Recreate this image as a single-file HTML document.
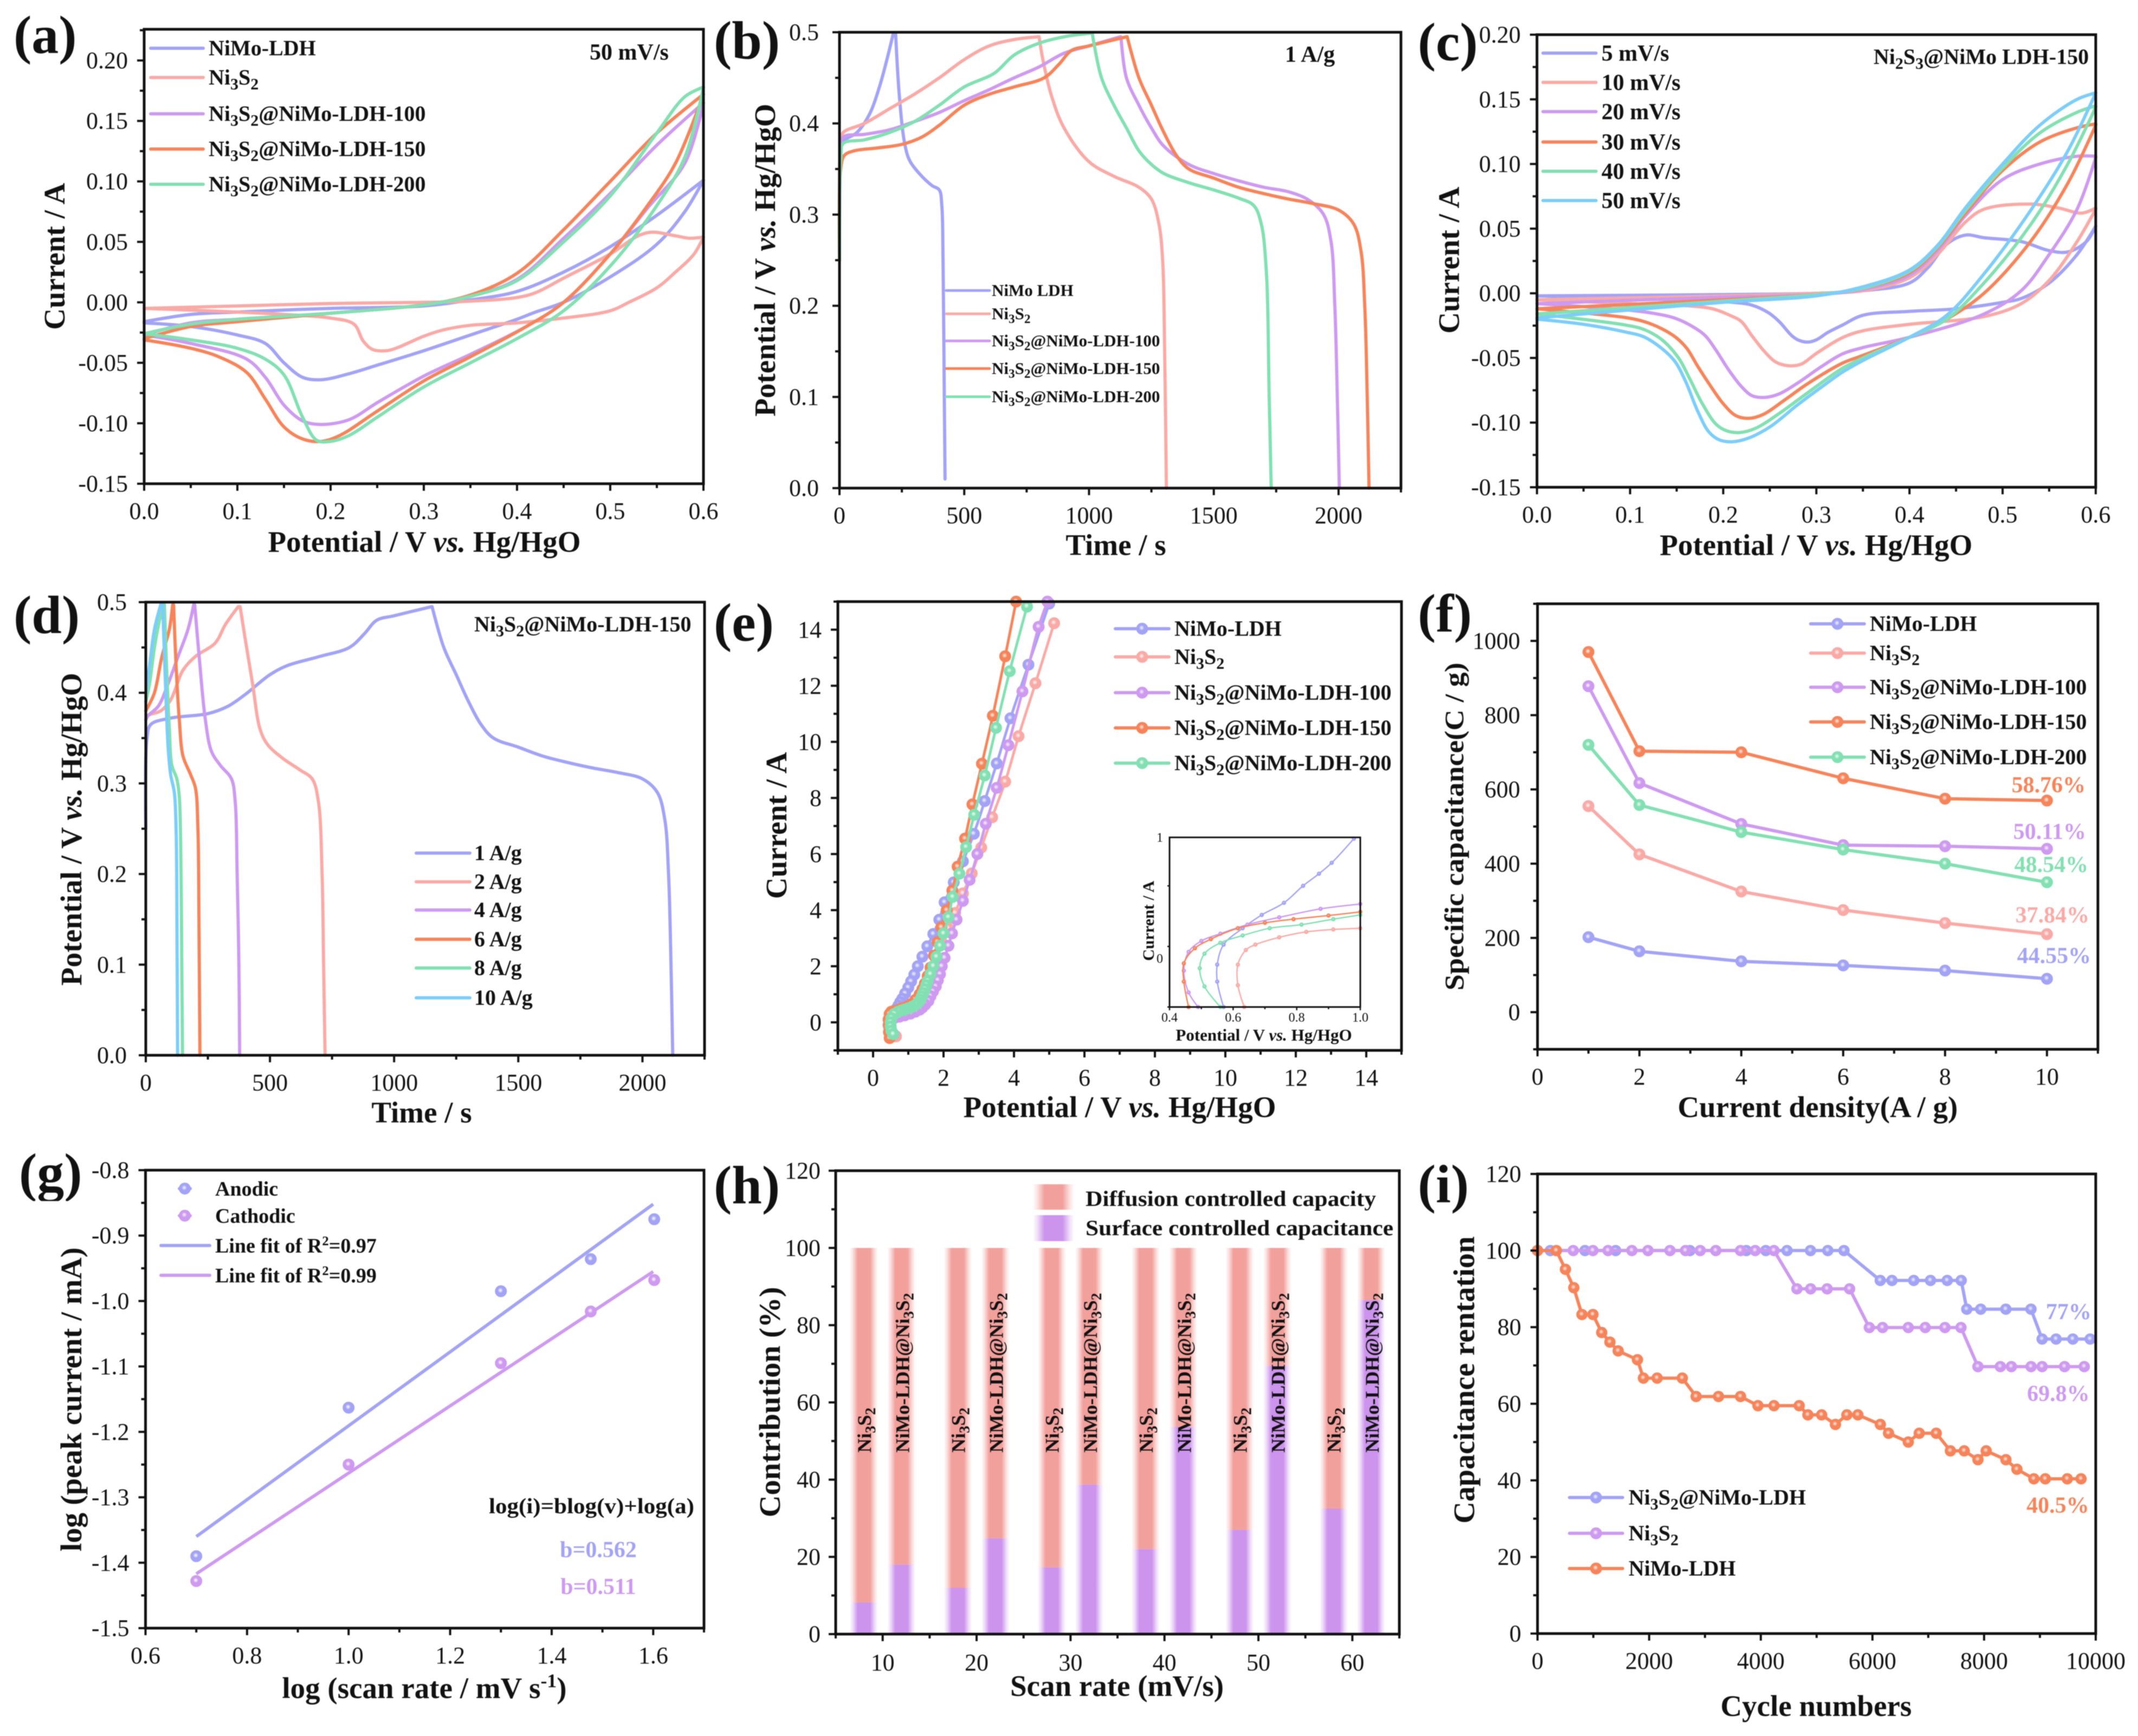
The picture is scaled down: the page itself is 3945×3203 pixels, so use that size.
<!DOCTYPE html>
<html lang="en">
<head>
<meta charset="utf-8">
<title>Electrochemical performance panels</title>
<style>
html,body{margin:0;padding:0;background:#fff;}
#figure{display:block;width:3945px;height:3203px;filter:blur(0.7px);font-family:"Liberation Serif",serif;}
</style>
</head>
<body>
<svg id="figure" xmlns="http://www.w3.org/2000/svg" width="3945" height="3203" viewBox="0 0 3945 3203">
<defs id="defs"></defs>
<rect x="0" y="0" width="3945" height="3203" fill="#ffffff"></rect>
</svg>
<script>
/* ---------- shared category names ---------- */
const materialNames = ["NiMo-LDH","Ni_3S_2","Ni_3S_2@NiMo-LDH-100","Ni_3S_2@NiMo-LDH-150","Ni_3S_2@NiMo-LDH-200"];

/* ---------- panel a : CV at 50 mV/s (potential V, current A) ---------- */
const aXTicks=[0,0.1,0.2,0.3,0.4,0.5,0.6];
const aYTicks=[-0.15,-0.1,-0.05,0,0.05,0.1,0.15,0.2];
const aNiMoFwd=[[0,-.016],[.05,-.01],[.1,-.008],[.2,-.005],[.3,-.003],[.35,.002],[.4,.009],[.45,.025],[.5,.046],[.55,.072],[.6,.101]];
const aNiMoRev=[[.6,.101],[.58,.075],[.55,.048],[.5,.021],[.45,0],[.42,-.008],[.4,-.014],[.35,-.027],[.3,-.04],[.25,-.052],[.22,-.059],[.19,-.064],[.17,-.062],[.15,-.05],[.13,-.034],[.1,-.027],[.05,-.02],[0,-.017]];
const aNi3S2Fwd=[[0,-.005],[.1,-.003],[.2,-.001],[.3,0],[.35,.001],[.4,.004],[.42,.008],[.45,.02],[.5,.04],[.53,.055],[.545,.058],[.57,.055],[.585,.053],[.6,.054]];
const aNi3S2Rev=[[.6,.054],[.59,.04],[.57,.025],[.55,.012],[.52,0],[.5,-.007],[.45,-.013],[.4,-.017],[.35,-.019],[.32,-.023],[.3,-.028],[.27,-.038],[.26,-.04],[.245,-.039],[.235,-.032],[.225,-.018],[.2,-.013],[.15,-.01],[.1,-.008],[0,-.005]];
const a100Fwd=[[0,-.027],[.05,-.017],[.1,-.014],[.2,-.009],[.3,-.002],[.35,.005],[.4,.019],[.45,.053],[.5,.09],[.55,.13],[.6,.165]];
const a100Rev=[[.6,.165],[.58,.115],[.54,.078],[.5,.04],[.45,0],[.41,-.02],[.35,-.043],[.3,-.061],[.25,-.083],[.22,-.097],[.19,-.101],[.17,-.098],[.15,-.085],[.13,-.062],[.11,-.047],[.05,-.034],[0,-.027]];
const a150Fwd=[[0,-.03],[.05,-.02],[.1,-.016],[.2,-.009],[.3,-.002],[.35,.006],[.4,.024],[.45,.06],[.5,.1],[.55,.14],[.6,.172]];
const a150Rev=[[.6,.172],[.57,.115],[.54,.08],[.5,.04],[.45,0],[.41,-.02],[.35,-.045],[.3,-.065],[.25,-.09],[.21,-.11],[.19,-.115],[.17,-.113],[.15,-.103],[.13,-.08],[.11,-.058],[.08,-.045],[.05,-.038],[0,-.031]];
const a200Fwd=[[0,-.026],[.05,-.018],[.1,-.014],[.2,-.009],[.3,-.002],[.35,.005],[.4,.018],[.45,.05],[.5,.088],[.55,.14],[.58,.17],[.6,.178]];
const a200Rev=[[.6,.178],[.58,.12],[.55,.08],[.5,.03],[.45,-.007],[.4,-.03],[.35,-.05],[.3,-.07],[.25,-.095],[.22,-.11],[.2,-.115],[.185,-.114],[.17,-.095],[.15,-.06],[.13,-.047],[.1,-.038],[.05,-.031],[0,-.026]];

/* ---------- panel b : GCD at 1 A/g (time s, potential V) ---------- */
const bXTicks=[0,500,1000,1500,2000];
const bYTicks=[0,0.1,0.2,0.3,0.4,0.5];
const bNiMoCharge=[[0,.25],[5,.36],[15,.38],[70,.39],[120,.41],[160,.44],[190,.47],[215,.498]];
const bNiMoDischarge=[[225,.498],[240,.43],[260,.38],[280,.36],[320,.345],[370,.332],[400,.327],[410,.31],[415,.25],[420,.1],[423,.01]];
const bNi3S2Charge=[[0,.3],[5,.38],[15,.39],[100,.4],[200,.416],[300,.432],[400,.45],[500,.47],[600,.485],[700,.492],[798,.495]];
const bNi3S2Discharge=[[800,.495],[815,.47],[850,.43],[900,.395],[1000,.358],[1100,.342],[1200,.33],[1250,.317],[1280,.29],[1295,.25],[1303,.15],[1310,0]];
const b100Charge=[[0,.3],[5,.37],[15,.385],[100,.388],[200,.393],[300,.402],[400,.412],[500,.425],[600,.437],[700,.45],[800,.462],[900,.477],[1000,.485],[1125,.495]];
const b100Discharge=[[1128,.495],[1150,.45],[1200,.42],[1250,.395],[1300,.375],[1400,.355],[1500,.345],[1600,.337],[1700,.33],[1800,.325],[1880,.316],[1940,.3],[1970,.27],[1985,.2],[1995,.1],[2003,0]];
const b150Charge=[[0,.25],[5,.35],[20,.365],[60,.37],[150,.373],[250,.377],[330,.385],[400,.398],[500,.42],[600,.432],[700,.44],[820,.45],[880,.465],[930,.48],[1000,.485],[1150,.495]];
const b150Discharge=[[1153,.495],[1200,.45],[1250,.42],[1300,.39],[1350,.365],[1400,.35],[1500,.34],[1600,.33],[1700,.323],[1800,.317],[1900,.312],[2000,.305],[2060,.29],[2090,.26],[2105,.2],[2115,.1],[2122,0]];
const b200Charge=[[0,.25],[5,.36],[15,.378],[100,.382],[200,.39],[300,.402],[400,.42],[500,.44],[620,.455],[700,.475],[800,.488],[900,.495],[1010,.499]];
const b200Discharge=[[1013,.499],[1050,.45],[1100,.42],[1150,.395],[1200,.37],[1250,.355],[1300,.345],[1400,.335],[1500,.327],[1600,.318],[1660,.31],[1690,.29],[1710,.24],[1722,.1],[1730,0]];

/* ---------- panel c : CV at scan rates ---------- */
const cLegend=["5 mV/s","10 mV/s","20 mV/s","30 mV/s","40 mV/s","50 mV/s"];
const c5Fwd=[[0,-.002],[.2,-.001],[.3,0],[.35,.002],[.4,.008],[.42,.02],[.44,.038],[.46,.045],[.48,.043],[.52,.04],[.55,.033],[.57,.032],[.59,.04],[.6,.052]];
const c5Rev=[[.6,.052],[.58,.03],[.55,.008],[.52,-.004],[.5,-.007],[.45,-.012],[.4,-.014],[.35,-.017],[.328,-.0246],[.3125,-.0302],[.3,-.036],[.2915,-.0377],[.2817,-.0365],[.274,-.033],[.26,-.0218],[.2485,-.015],[.231,-.0092],[.212,-.0071],[.1,-.004],[0,-.002]];
const c10Fwd=[[0,-.005],[.2,-.002],[.3,0],[.35,.002],[.4,.012],[.43,.03],[.46,.055],[.48,.065],[.53,.069],[.56,.066],[.585,.062],[.6,.066]];
const c10Rev=[[.6,.065],[.58,.04],[.55,.01],[.52,-.008],[.48,-.018],[.4,-.024],[.35,-.029],[.328,-.0343],[.3,-.0465],[.2834,-.0549],[.27,-.056],[.2566,-.0532],[.245,-.0456],[.231,-.033],[.2194,-.0218],[.2077,-.0172],[.1886,-.012],[.1595,-.0096],[.1,-.008],[0,-.005]];
const c20Fwd=[[0,-.008],[.2,-.003],[.3,-.001],[.35,.003],[.4,.014],[.43,.033],[.46,.06],[.5,.088],[.54,.1],[.58,.106],[.6,.106]];
const c20Rev=[[.6,.105],[.58,.065],[.55,.03],[.52,.002],[.48,-.016],[.4,-.034],[.35,-.042],[.328,-.0469],[.305,-.0569],[.28,-.0694],[.26,-.0778],[.245,-.0805],[.231,-.0792],[.2194,-.072],[.206,-.0594],[.1925,-.0443],[.181,-.033],[.1693,-.0267],[.1495,-.0196],[.1245,-.0154],[.0954,-.0128],[0,-.008]];
const c30Fwd=[[0,-.012],[.2,-.005],[.3,-.001],[.35,.004],[.4,.016],[.43,.035],[.46,.062],[.5,.095],[.54,.117],[.58,.128],[.6,.131]];
const c30Rev=[[.6,.13],[.57,.085],[.53,.04],[.48,0],[.44,-.02],[.4,-.034],[.35,-.048],[.328,-.054],[.289,-.0707],[.266,-.0825],[.2427,-.0938],[.2275,-.0967],[.2135,-.0946],[.2,-.0854],[.1867,-.072],[.173,-.0569],[.161,-.0427],[.1495,-.0343],[.1343,-.0275],[.1148,-.0218],[.0954,-.0188],[0,-.012]];
const c40Fwd=[[0,-.016],[.2,-.006],[.3,-.001],[.35,.004],[.4,.017],[.43,.036],[.46,.064],[.5,.097],[.54,.124],[.58,.14],[.6,.145]];
const c40Rev=[[.6,.144],[.57,.1],[.53,.053],[.48,.008],[.44,-.02],[.4,-.034],[.35,-.05],[.328,-.058],[.289,-.0778],[.26,-.093],[.235,-.1043],[.2177,-.1077],[.204,-.1064],[.1925,-.1014],[.177,-.0846],[.1635,-.0653],[.152,-.05],[.1343,-.036],[.1148,-.028],[.0954,-.0246],[0,-.016]];
const c50Fwd=[[0,-.019],[.2,-.007],[.3,-.002],[.35,.005],[.4,.018],[.43,.037],[.46,.066],[.5,.1],[.54,.13],[.58,.15],[.6,.155]];
const c50Rev=[[.6,.155],[.57,.11],[.53,.064],[.48,.015],[.44,-.017],[.4,-.034],[.35,-.052],[.328,-.061],[.309,-.0707],[.28,-.0862],[.2508,-.103],[.2275,-.1119],[.21,-.1148],[.1963,-.1135],[.1846,-.1072],[.173,-.0918],[.1595,-.068],[.148,-.0526],[.1343,-.0428],[.1148,-.0337],[.0954,-.03],[.05,-.024],[0,-.02]];

/* ---------- panel d : GCD at current densities ---------- */
const dLegend=["1 A/g","2 A/g","4 A/g","6 A/g","8 A/g","10 A/g"];
const d1Charge=[[0,.25],[5,.35],[20,.365],[100,.372],[250,.377],[330,.385],[400,.398],[500,.42],[570,.43],[700,.44],[820,.45],[880,.465],[930,.48],[1000,.485],[1150,.495]];
const d1Discharge=[[1153,.495],[1200,.45],[1250,.42],[1300,.39],[1350,.365],[1400,.35],[1500,.34],[1600,.33],[1700,.323],[1800,.317],[1900,.312],[2000,.305],[2060,.29],[2090,.26],[2105,.2],[2115,.1],[2122,0]];
const d2Charge=[[0,.37],[10,.375],[60,.38],[100,.392],[150,.425],[200,.44],[280,.455],[320,.475],[372,.495]];
const d2Discharge=[[380,.495],[400,.46],[430,.41],[460,.36],[490,.343],[550,.328],[620,.315],[670,.305],[695,.28],[710,.2],[716,.1],[722,0]];
const d4Charge=[[0,.37],[10,.375],[50,.385],[90,.41],[130,.44],[170,.47],[193,.497]];
const d4Discharge=[[197,.497],[215,.44],[240,.37],[265,.335],[300,.32],[345,.305],[360,.28],[368,.2],[375,.1],[378,0]];
const d6Charge=[[0,.38],[10,.385],[35,.4],[65,.44],[95,.47],[108,.497]];
const d6Discharge=[[112,.497],[122,.43],[135,.37],[150,.33],[180,.31],[200,.295],[210,.25],[214,.15],[218,0]];
const d8Charge=[[0,.39],[15,.41],[35,.45],[55,.48],[70,.497]];
const d8Discharge=[[75,.497],[85,.42],[95,.36],[105,.32],[125,.305],[135,.285],[142,.2],[145,.1],[148,0]];
const d10Charge=[[0,.4],[15,.43],[35,.47],[60,.497]];
const d10Discharge=[[68,.497],[78,.42],[90,.34],[100,.31],[115,.29],[122,.25],[126,.12],[128,0]];

/* ---------- panel e : LSV with markers ---------- */
const eTicks=[0,2,4,6,8,10,12,14];
const eNiMo=[[5,14.93],[4.41,12.75],[3.9,10.84],[3.51,9.23],[3.17,7.89],[2.86,6.72],[2.55,5.74],[2.29,4.99],[2.03,4.28],[1.88,3.66],[1.71,3.15],[1.54,2.71],[1.4,2.34],[1.27,2],[1.17,1.7],[1.08,1.46],[1,1.24],[.91,1.03],[.83,.84],[.77,.72],[.72,.6],[.66,.48],[.6,.38],[.52,.25],[.47,.1],[.46,-.05],[.47,-.2],[.52,-.35],[.58,-.45]];
const eNi3S2=[[5.14,14.23],[4.61,12.09],[4.13,10.2],[3.75,8.58],[3.38,7.31],[3.07,6.23],[2.8,5.31],[2.55,4.6],[2.33,3.9],[2.13,3.35],[1.96,2.83],[1.83,2.31],[1.72,1.85],[1.62,1.5],[1.52,1.2],[1.42,.95],[1.32,.72],[1.2,.55],[1.1,.42],[1,.35],[.9,.3],[.8,.27],[.7,.24],[.6,.25],[.5,.15],[.46,0],[.45,-.15],[.48,-.3],[.55,-.42],[.65,-.5]];
const e100=[[4.95,15],[4.7,14.1],[4.24,11.8],[3.84,9.88],[3.51,8.36],[3.2,7.08],[2.96,6],[2.74,5.08],[2.55,4.33],[2.37,3.66],[2.24,3.17],[2.14,2.73],[2.03,2.3],[1.95,2],[1.9,1.72],[1.84,1.5],[1.78,1.28],[1.7,1.1],[1.63,.93],[1.57,.76],[1.48,.63],[1.4,.53],[1.32,.45],[1.2,.38],[1.06,.31],[.9,.25],[.75,.2],[.6,.15],[.5,.05],[.47,-.1],[.5,-.3],[.58,-.42]];
const e150=[[4.06,15],[3.75,13.05],[3.4,10.93],[3.09,9.22],[2.82,7.77],[2.61,6.55],[2.4,5.55],[2.25,4.7],[2.09,4],[1.94,3.39],[1.83,2.86],[1.73,2.38],[1.63,1.95],[1.55,1.65],[1.47,1.38],[1.4,1.18],[1.32,1],[1.2,.8],[1.08,.65],[.95,.55],[.8,.5],[.65,.42],[.52,.38],[.47,.3],[.44,.1],[.44,-.1],[.45,-.35],[.47,-.56]];
const e200=[[4.37,14.82],[3.88,12.52],[3.49,10.5],[3.17,8.8],[2.87,7.4],[2.64,6.25],[2.45,5.3],[2.26,4.47],[2.14,3.75],[2,3.17],[1.9,2.73],[1.8,2.34],[1.71,2.01],[1.63,1.72],[1.55,1.47],[1.51,1.32],[1.47,1.18],[1.42,1.04],[1.38,.92],[1.34,.8],[1.28,.7],[1.2,.62],[1.1,.55],[1,.5],[.9,.46],[.8,.42],[.7,.37],[.6,.3],[.52,.15],[.5,0],[.5,-.15],[.52,-.3],[.57,-.42]];
/* inset of panel e */
const insetNiMo=[[.57,-.4],[.55,-.19],[.55,-.05],[.57,.115],[.63,.25],[.69,.36],[.76,.46],[.82,.6],[.87,.7],[.91,.79],[.98,.99]];
const insetNi3S2=[[.635,-.4],[.615,-.22],[.615,-.05],[.64,.07],[.67,.115],[.745,.175],[.83,.22],[.915,.24],[1,.25]];
const inset100=[[.49,-.4],[.46,-.28],[.445,-.1],[.46,.055],[.5,.145],[.56,.205],[.645,.28],[.745,.34],[.875,.41],[1,.45]];
const inset150=[[.46,-.4],[.445,-.19],[.445,-.04],[.48,.085],[.53,.16],[.615,.25],[.7,.295],[.79,.325],[.9,.355],[1,.385]];
const inset200=[[.56,-.4],[.51,-.23],[.495,-.08],[.51,.04],[.56,.13],[.63,.19],[.715,.25],[.815,.28],[.915,.325],[1,.36]];

/* ---------- panel f : specific capacitance ---------- */
const fDensity=[1,2,4,6,8,10];
const fNiMo=[202,164,137,126,112,90];
const fNi3S2=[555,425,325,275,240,210];
const f100=[878,617,507,450,447,440];
const f150=[970,703,700,630,575,570];
const f200=[720,558,485,438,400,350];
const fRetention=["44.55%","37.84%","50.11%","58.76%","48.54%"];

/* ---------- panel g : log-log fit ---------- */
const gLogRate=[0.7,1,1.3,1.477,1.602];
const gAnodic=[-1.39,-1.163,-.985,-.936,-.875];
const gCathodic=[-1.428,-1.25,-1.095,-1.016,-.968];
const gFitX=[0.7,1.6];
const gAnodicFit=[-1.36,-.852];
const gCathodicFit=[-1.417,-.955];

/* ---------- panel h : stacked contribution ---------- */
const hNi3S2Rate=[8,18,28,38,48,58];
const hCompRate=[12,22,32,42,52,62];
const hNi3S2Surface=[8.2,12,17.3,22,27,32.5];
const hCompSurface=[18,24.8,38.7,53.7,69.5,86.5];

/* ---------- panel i : cycling ---------- */
const iComposite=[[0,100],[230,100],[850,100],[1400,100],[2730,100],[3740,100],[4090,100],[4470,100],[4890,100],[5200,100],[5490,100],[6140,92.2],[6350,92.2],[6740,92.2],[7040,92.2],[7340,92.2],[7590,92.2],[7690,84.7],[7940,84.7],[8390,84.7],[8840,84.7],[9040,76.9],[9290,76.9],[9590,76.9],[9900,76.9]];
const iNi3S2=[[0,100],[640,100],[993,100],[1264,100],[1691,100],[1979,100],[2373,100],[2652,100],[2915,100],[3194,100],[3637,100],[3900,100],[4236,100],[4647,90],[4893,90],[5189,90],[5591,90],[5944,79.9],[6182,79.9],[6642,79.9],[6946,79.9],[7299,79.9],[7586,79.9],[7890,69.7],[8292,69.7],[8489,69.7],[8842,69.7],[9040,69.7],[9442,69.7],[9795,69.7]];
const iNiMo=[[0,100],[337,100],[500,95.1],[650,90.3],[796,83.3],[993,83.3],[1150,78.6],[1297,76.1],[1445,73.8],[1790,71.5],[1897,66.7],[2143,66.7],[2594,66.7],[2841,61.9],[3243,61.9],[3637,61.9],[3949,59.5],[4236,59.5],[4688,59.5],[4844,57.1],[5090,57.1],[5337,54.6],[5542,57.1],[5739,57.1],[6141,54.6],[6289,52.3],[6642,50],[6839,52.3],[7143,52.3],[7397,47.7],[7644,47.7],[7890,45.4],[8038,47.7],[8391,45.4],[8588,42.9],[8892,40.4],[9097,40.4],[9491,40.4],[9737,40.4]];

/* ---------- drawing helpers ---------- */
const NS="http://www.w3.org/2000/svg";
const svg=document.getElementById("figure");
const defs=document.getElementById("defs");
const BLUE="#a3a3f6",PINK="#f9aaa6",PURPLE="#cd9af0",ORANGE="#f5845a",GREEN="#82e0b2",SKY="#7ccdf9";
const MATERIAL=[BLUE,PINK,PURPLE,ORANGE,GREEN];
const RATE=[BLUE,PINK,PURPLE,ORANGE,GREEN,SKY];
function make(tag,parent,attrs){
  const e=document.createElementNS(NS,tag);
  for(const k in attrs)e.setAttribute(k,attrs[k]);
  parent.appendChild(e);
  return e;
}
[BLUE,PINK,PURPLE,ORANGE,GREEN].forEach(function(c){
  const g=make("radialGradient",defs,{id:"dot"+c.slice(1),cx:"0.45",cy:"0.42",r:"0.6"});
  make("stop",g,{offset:"0","stop-color":"#ffffff","stop-opacity":"0.85"});
  make("stop",g,{offset:"0.4","stop-color":c});
  make("stop",g,{offset:"1","stop-color":c});
});
[["barPink","#f2a09c"],["barPurple","#cc94ec"]].forEach(function(p){
  const g=make("linearGradient",defs,{id:p[0],x1:"0",x2:"1",y1:"0",y2:"0"});
  make("stop",g,{offset:"0","stop-color":p[1],"stop-opacity":"0"});
  make("stop",g,{offset:"0.12","stop-color":p[1],"stop-opacity":"0.35"});
  make("stop",g,{offset:"0.28","stop-color":p[1]});
  make("stop",g,{offset:"0.72","stop-color":p[1]});
  make("stop",g,{offset:"0.88","stop-color":p[1],"stop-opacity":"0.35"});
  make("stop",g,{offset:"1","stop-color":p[1],"stop-opacity":"0"});
});
/* rich text: _x subscript, ^x^ superscript, *x* italic */
function txt(parent,x,y,str,name,o){
  o=o||{};
  const t=make("text",parent,{x:0,y:0,"font-size":o.size||44,"font-weight":o.bold===false?"normal":"bold",fill:o.fill||"#111","text-anchor":o.anchor||"start",transform:"translate("+x+" "+y+")"+(o.rotate?" rotate("+o.rotate+")":"")});
  
  
  if(o.fit){t.setAttribute("textLength",o.fit);t.setAttribute("lengthAdjust","spacingAndGlyphs");}
  const size=o.size||44;
  const re=/_(\w)|\^(.+?)\^|\*(.+?)\*|[^_^*]+/g;
  let m,pending=0;
  while((m=re.exec(str))){
    const s=make("tspan",t,{});
    let dy=pending;pending=0;
    if(m[1]){s.textContent=m[1];s.setAttribute("font-size",size*.75);dy+=size*.22;pending=-size*.22;}
    else if(m[2]){s.textContent=m[2];s.setAttribute("font-size",size*.65);dy-=size*.36;pending=size*.36;}
    else if(m[3]){s.textContent=m[3];s.setAttribute("font-style","italic");}
    else s.textContent=m[0];
    if(dy)s.setAttribute("dy",dy);
  }
  return t;
}
function scale(d0,d1,p0,p1){return function(v){return p0+(v-d0)/(d1-d0)*(p1-p0);};}
/* centripetal Catmull-Rom through the data points */
function smooth(pts,first){
  function dist(a,b){return Math.pow(Math.hypot(a[0]-b[0],a[1]-b[1]),0.5)||1e-4;}
  let d=(first?"M":"L")+pts[0][0].toFixed(1)+" "+pts[0][1].toFixed(1);
  for(let i=0;i<pts.length-1;i++){
    const p1=pts[i],p2=pts[i+1];
    const p0=i>0?pts[i-1]:null,p3=i<pts.length-2?pts[i+2]:null;
    const d2=dist(p1,p2);
    let c1=p1,c2=p2;
    if(p0){
      const d1=dist(p0,p1),A=2*d1*d1+3*d1*d2+d2*d2,N=3*d1*(d1+d2);
      c1=[(d1*d1*p2[0]-d2*d2*p0[0]+A*p1[0])/N,(d1*d1*p2[1]-d2*d2*p0[1]+A*p1[1])/N];
    }
    if(p3){
      const d3=dist(p2,p3),B=2*d3*d3+3*d3*d2+d2*d2,N=3*d3*(d3+d2);
      c2=[(d3*d3*p1[0]-d2*d2*p3[0]+B*p2[0])/N,(d3*d3*p1[1]-d2*d2*p3[1]+B*p2[1])/N];
    }
    d+="C"+c1[0].toFixed(1)+" "+c1[1].toFixed(1)+" "+c2[0].toFixed(1)+" "+c2[1].toFixed(1)+" "+p2[0].toFixed(1)+" "+p2[1].toFixed(1);
  }
  return d;
}
function panel(c){
  const g=make("g",svg,{});
  
  
  const sx=scale(c.xd[0],c.xd[1],c.box[0],c.box[2]);
  const sy=scale(c.yd[0],c.yd[1],c.box[3],c.box[1]);
  return {g:g,sx:sx,sy:sy,c:c};
}
function frame(P){
  const c=P.c,b=c.box,g=P.g,sw=c.sw||5;
  const r=make("rect",g,{x:b[0],y:b[1],width:b[2]-b[0],height:b[3]-b[1],fill:"none",stroke:"#111","stroke-width":sw});
  
  
  const maj=c.maj||13,min=c.min||8;
  const xdp=c.xdp||0,ydp=c.ydp||0;
  function eq(a,b){return Math.abs(a-b)<1e-6;}
  for(let v=c.xd[0];v<=c.xd[1]+1e-9;v+=c.xminor){
    const major=c.xticks.some(function(t){return eq(t,v);});
    const x=P.sx(v);
    const tk=make("line",g,{x1:x,x2:x,y1:b[3],y2:b[3]+(major?maj:min),stroke:"#111","stroke-width":sw*.8});
    
    
  }
  c.xticks.forEach(function(t){
    txt(g,P.sx(t),b[3]+(c.xoff||65),t.toFixed(xdp),"x-tick-label",{size:c.tick||44,bold:false,anchor:"middle"});
  });
  for(let v=c.yd[0];v<=c.yd[1]+1e-9;v+=c.yminor){
    const major=c.yticks.some(function(t){return eq(t,v);});
    const y=P.sy(v);
    const tk=make("line",g,{x1:b[0],x2:b[0]-(major?maj:min),y1:y,y2:y,stroke:"#111","stroke-width":sw*.8});
    
    
  }
  c.yticks.forEach(function(t){
    txt(g,b[0]-(c.yoff||30),P.sy(t)+(c.tick||44)*.33,t.toFixed(ydp),"y-tick-label",{size:c.tick||44,bold:false,anchor:"end"});
  });
}
function curve(P,segs,color,name,w){
  let d="";
  segs.forEach(function(s,i){
    d+=smooth(s.map(function(p){return [P.sx(p[0]),P.sy(p[1])];}),i===0);
  });
  const p=make("path",P.g,{d:d,fill:"none",stroke:color,"stroke-width":w||6,"stroke-linejoin":"round","stroke-linecap":"round"});
  
  
  return p;
}
function straight(P,pts,color,name,w){
  const d=pts.map(function(p,i){return (i?"L":"M")+P.sx(p[0]).toFixed(1)+" "+P.sy(p[1]).toFixed(1);}).join("");
  const p=make("path",P.g,{d:d,fill:"none",stroke:color,"stroke-width":w||6,"stroke-linejoin":"round"});
  
  
}
function dots(P,pts,color,name,r){
  pts.forEach(function(p){
    const c=make("circle",P.g,{cx:P.sx(p[0]),cy:P.sy(p[1]),r:r||9.5,fill:"url(#dot"+color.slice(1)+")",stroke:color,"stroke-width":2});
    
    
  });
}
function legendItem(g,x0,x1,y,tx,label,color,o){
  o=o||{};
  const it=make("g",g,{});
  
  
  if(x1>x0){make("line",it,{x1:x0,x2:x1,y1:y,y2:y,stroke:color,"stroke-width":o.w||6,"stroke-linecap":"round"});}
  if(o.marker){make("circle",it,{cx:(x0+x1)/2,cy:y,r:o.r||10,fill:"url(#dot"+color.slice(1)+")",stroke:color,"stroke-width":2});}
  txt(it,tx,y+(o.base||13),label,"legend-label",{size:o.size||40});
}
function tag(g,x,y,label){txt(g,x,y,label,"panel-label",{size:100});}
function zip(xs,ys){return xs.map(function(x,i){return [x,ys[i]];});}

/* ---------- panel a ---------- */
(function(){
  const P=panel({name:"panel-a-cv",box:[266,54,1298,892.5],xd:[0,.6],yd:[-.15,.2258],xticks:aXTicks,yticks:aYTicks,xminor:.05,yminor:.025,xdp:1,ydp:2});
  curve(P,[aNiMoFwd,aNiMoRev],BLUE,"series-nimo-ldh");
  curve(P,[aNi3S2Fwd,aNi3S2Rev],PINK,"series-ni3s2");
  curve(P,[a100Fwd,a100Rev],PURPLE,"series-100");
  curve(P,[a150Fwd,a150Rev],ORANGE,"series-150");
  curve(P,[a200Fwd,a200Rev],GREEN,"series-200");
  frame(P);
  [89,143,210,275,340].forEach(function(y,i){legendItem(P.g,278,375,y,385,materialNames[i],MATERIAL[i],{size:40});});
  txt(P.g,1088,110,"50 mV/s","scan-rate-note",{size:42});
  txt(P.g,119,473,"Current / A","y-axis-title",{size:55,rotate:-90,anchor:"middle"});
  txt(P.g,783,1018,"Potential / V *vs.* Hg/HgO","x-axis-title",{size:55,anchor:"middle"});
  tag(P.g,25,98,"(a)");
})();

/* ---------- panel b ---------- */
(function(){
  const P=panel({name:"panel-b-gcd",box:[1549,59.5,2585,900.6],xd:[0,2250],yd:[0,.5],xticks:bXTicks,yticks:bYTicks,xminor:250,yminor:.05,ydp:1,yoff:38});
  curve(P,[bNiMoCharge,bNiMoDischarge],BLUE,"series-nimo-ldh");
  curve(P,[bNi3S2Charge,bNi3S2Discharge],PINK,"series-ni3s2");
  curve(P,[b100Charge,b100Discharge],PURPLE,"series-100");
  curve(P,[b150Charge,b150Discharge],ORANGE,"series-150");
  curve(P,[b200Charge,b200Discharge],GREEN,"series-200");
  frame(P);
  const names=["NiMo LDH"].concat(materialNames.slice(1));
  [536,579,629,680,732].forEach(function(y,i){legendItem(P.g,1746,1826,y,1830,names[i],MATERIAL[i],{size:31,base:10,w:5});});
  txt(P.g,2371,114,"1 A/g","current-density-note",{size:42});
  txt(P.g,1430,480,"Potential / V *vs.* Hg/HgO","y-axis-title",{size:55,rotate:-90,anchor:"middle"});
  txt(P.g,2059,1024,"Time / s","x-axis-title",{size:55,anchor:"middle"});
  tag(P.g,1317,108,"(b)");
})();

/* ---------- panel c ---------- */
(function(){
  const P=panel({name:"panel-c-cv-rates",box:[2836,64,3867,899],xd:[0,.6],yd:[-.15,.2],xticks:aXTicks,yticks:aYTicks,xminor:.05,yminor:.025,xdp:1,ydp:2});
  curve(P,[c5Fwd,c5Rev],BLUE,"series-5-mv-s");
  curve(P,[c10Fwd,c10Rev],PINK,"series-10-mv-s");
  curve(P,[c20Fwd,c20Rev],PURPLE,"series-20-mv-s");
  curve(P,[c30Fwd,c30Rev],ORANGE,"series-30-mv-s");
  curve(P,[c40Fwd,c40Rev],GREEN,"series-40-mv-s");
  curve(P,[c50Fwd,c50Rev],SKY,"series-50-mv-s");
  frame(P);
  [98,152,206,262,316,370].forEach(function(y,i){legendItem(P.g,2847,2945,y,2955,cLegend[i],RATE[i],{size:42,base:14});});
  txt(P.g,3457,118,"Ni_2S_3@NiMo LDH-150","sample-note",{size:40});
  txt(P.g,2692,480,"Current / A","y-axis-title",{size:55,rotate:-90,anchor:"middle"});
  txt(P.g,3351,1024,"Potential / V *vs.* Hg/HgO","x-axis-title",{size:55,anchor:"middle"});
  tag(P.g,2616,111,"(c)");
})();

/* ---------- panel d ---------- */
(function(){
  const P=panel({name:"panel-d-gcd-rates",box:[269,1111,1300,1947],xd:[0,2250],yd:[0,.5],xticks:bXTicks,yticks:bYTicks,xminor:250,yminor:.05,ydp:1,yoff:35});
  curve(P,[d1Charge,d1Discharge],BLUE,"series-1-a-g");
  curve(P,[d2Charge,d2Discharge],PINK,"series-2-a-g");
  curve(P,[d4Charge,d4Discharge],PURPLE,"series-4-a-g");
  curve(P,[d6Charge,d6Discharge],ORANGE,"series-6-a-g");
  curve(P,[d8Charge,d8Discharge],GREEN,"series-8-a-g");
  curve(P,[d10Charge,d10Discharge],SKY,"series-10-a-g");
  frame(P);
  [1574,1627,1679,1733,1786,1841].forEach(function(y,i){legendItem(P.g,768,867,y,875,dLegend[i],RATE[i],{size:40,base:13});});
  txt(P.g,875,1165,"Ni_3S_2@NiMo-LDH-150","sample-note",{size:40});
  txt(P.g,150,1530,"Potential / V *vs.* Hg/HgO","y-axis-title",{size:55,rotate:-90,anchor:"middle"});
  txt(P.g,778,2071,"Time / s","x-axis-title",{size:55,anchor:"middle"});
  tag(P.g,25,1168,"(d)");
})();

/* ---------- panel e ---------- */
(function(){
  const P=panel({name:"panel-e-lsv",box:[1546,1110,2586,1938],xd:[-1,15],yd:[-1,15],xticks:eTicks,yticks:eTicks,xminor:1,yminor:1,yoff:30});
  [[eNiMo,BLUE,"series-nimo-ldh"],[eNi3S2,PINK,"series-ni3s2"],[e100,PURPLE,"series-100"],[e150,ORANGE,"series-150"],[e200,GREEN,"series-200"]].forEach(function(s){
    curve(P,[s[0]],s[1],s[2]+"-line",5);
    dots(P,s[0],s[1],s[2]+"-point",10);
  });
  frame(P);
  [1160,1212,1278,1343,1408].forEach(function(y,i){legendItem(P.g,2058,2157,y,2167,materialNames[i],MATERIAL[i],{size:40,marker:true,r:10});});
  txt(P.g,1451,1523,"Current / A","y-axis-title",{size:55,rotate:-90,anchor:"middle"});
  txt(P.g,2066,2061,"Potential / V *vs.* Hg/HgO","x-axis-title",{size:55,anchor:"middle"});
  tag(P.g,1317,1182,"(e)");
  /* inset */
  const Q=panel({name:"panel-e-inset",box:[2158,1545,2510,1858],xd:[.4,1],yd:[-.4,1],xticks:[.4,.6,.8,1],yticks:[0,1],xminor:.1,yminor:.5,xdp:1,ydp:0,tick:24,xoff:27,yoff:12,maj:6,min:4,sw:3});
  [[insetNiMo,BLUE,"inset-nimo-ldh"],[insetNi3S2,PINK,"inset-ni3s2"],[inset100,PURPLE,"inset-100"],[inset150,ORANGE,"inset-150"],[inset200,GREEN,"inset-200"]].forEach(function(s){
    curve(Q,[s[0]],s[1],s[2]+"-line",2.5);
    dots(Q,s[0],s[1],s[2]+"-point",3);
  });
  frame(Q);
  txt(Q.g,2129,1699,"Current / A","inset-y-axis-title",{size:30,rotate:-90,anchor:"middle"});
  txt(Q.g,2332,1920,"Potential / V *vs.* Hg/HgO","inset-x-axis-title",{size:31,anchor:"middle"});
})();

/* ---------- panel f ---------- */
(function(){
  const P=panel({name:"panel-f-capacitance",box:[2837,1114,3871,1936],xd:[0,11],yd:[-100,1100],xticks:[0,2,4,6,8,10],yticks:[0,200,400,600,800,1000],xminor:1,yminor:100,yoff:32});
  [[fNiMo,BLUE,"series-nimo-ldh"],[fNi3S2,PINK,"series-ni3s2"],[f100,PURPLE,"series-100"],[f150,ORANGE,"series-150"],[f200,GREEN,"series-200"]].forEach(function(s){
    const pts=zip(fDensity,s[0]);
    straight(P,pts,s[1],s[2]+"-line",6);
    dots(P,pts,s[1],s[2]+"-point",10);
  });
  frame(P);
  [1151,1205,1268,1332,1397].forEach(function(y,i){legendItem(P.g,3341,3440,y,3450,materialNames[i],MATERIAL[i],{size:40,marker:true,r:10});});
  txt(P.g,3790,1777,fRetention[0],"retention-nimo-ldh",{size:42,anchor:"middle",fill:BLUE});
  txt(P.g,3787,1702,fRetention[1],"retention-ni3s2",{size:42,anchor:"middle",fill:PINK});
  txt(P.g,3782,1548,fRetention[2],"retention-100",{size:42,anchor:"middle",fill:PURPLE});
  txt(P.g,3780,1462,fRetention[3],"retention-150",{size:42,anchor:"middle",fill:ORANGE});
  txt(P.g,3785,1609,fRetention[4],"retention-200",{size:42,anchor:"middle",fill:GREEN});
  txt(P.g,2700,1525,"Specific capacitance(C / g)","y-axis-title",{size:50,rotate:-90,anchor:"middle",fit:605});
  txt(P.g,3354,2061,"Current density(A / g)","x-axis-title",{size:55,anchor:"middle"});
  tag(P.g,2616,1165,"(f)");
})();

/* ---------- panel g ---------- */
(function(){
  const P=panel({name:"panel-g-log-fit",box:[268.5,2159,1299,3004],xd:[.6,1.7],yd:[-1.5,-.8],xticks:[.6,.8,1,1.2,1.4,1.6],yticks:[-1.5,-1.4,-1.3,-1.2,-1.1,-1,-.9,-.8],xminor:.1,yminor:.05,xdp:1,ydp:1});
  straight(P,zip(gFitX,gAnodicFit),BLUE,"anodic-fit-line",6);
  straight(P,zip(gFitX,gCathodicFit),PURPLE,"cathodic-fit-line",6);
  dots(P,zip(gLogRate,gAnodic),BLUE,"anodic-point",10);
  dots(P,zip(gLogRate,gCathodic),PURPLE,"cathodic-point",10);
  frame(P);
  legendItem(P.g,331,351,2193,397,"Anodic",BLUE,{size:38,marker:true,r:10,w:0});
  legendItem(P.g,331,351,2243,397,"Cathodic",PURPLE,{size:38,marker:true,r:10,w:0});
  legendItem(P.g,297,387,2298,397,"Line fit of R^2^=0.97",BLUE,{size:38});
  legendItem(P.g,297,387,2353,397,"Line fit of R^2^=0.99",PURPLE,{size:38});
  txt(P.g,902,2792,"log(i)=blog(v)+log(a)","power-law-equation",{size:40,fit:379});
  txt(P.g,1104,2873,"b=0.562","anodic-b-value",{size:42,anchor:"middle",fill:BLUE});
  txt(P.g,1104,2941,"b=0.511","cathodic-b-value",{size:42,anchor:"middle",fill:PURPLE});
  txt(P.g,150,2582,"log (peak current / mA)","y-axis-title",{size:55,rotate:-90,anchor:"middle",fit:561});
  txt(P.g,783,3133,"log (scan rate / mV s^-1^)","x-axis-title",{size:55,anchor:"middle"});
  tag(P.g,35,2197,"(g)");
  const cover=make("rect",P.g,{x:20,y:2216,width:210,height:30,fill:"#fff"});
  
  
})();

/* ---------- panel h ---------- */
(function(){
  const P=panel({name:"panel-h-contribution",box:[1542,2160,2582,3015],xd:[5,65],yd:[0,120],xticks:[10,20,30,40,50,60],yticks:[0,20,40,60,80,100,120],xminor:5,yminor:10,yoff:28,xoff:67});
  const barW=3;
  function bar(x,surface,name){
    const x0=P.sx(x-barW/2),w=P.sx(x+barW/2)-x0;
    const top=make("rect",P.g,{x:x0,y:P.sy(100),width:w,height:P.sy(surface)-P.sy(100),fill:"url(#barPink)"});
    
    
    const low=make("rect",P.g,{x:x0,y:P.sy(surface),width:w,height:P.sy(0)-P.sy(surface),fill:"url(#barPurple)"});
    
    
  }
  hNi3S2Rate.forEach(function(x,i){bar(x,hNi3S2Surface[i],"ni3s2");});
  hCompRate.forEach(function(x,i){bar(x,hCompSurface[i],"composite");});
  hNi3S2Rate.forEach(function(x){txt(P.g,P.sx(x)+13,P.sy(47),"Ni_3S_2","bar-label-ni3s2",{size:36,rotate:-90});});
  hCompRate.forEach(function(x){txt(P.g,P.sx(x)+14,P.sy(47),"NiMo-LDH@Ni_3S_2","bar-label-composite",{size:36,rotate:-90});});
  frame(P);
  const s1=make("rect",P.g,{x:1906,y:2185,width:76,height:47,fill:"url(#barPink)"});
  
  
  const s2=make("rect",P.g,{x:1906,y:2242,width:76,height:48,fill:"url(#barPurple)"});
  
  
  txt(P.g,2003,2225,"Diffusion controlled capacity","legend-label-diffusion",{size:40,fit:536});
  txt(P.g,2003,2279,"Surface controlled capacitance","legend-label-surface",{size:40,fit:568});
  txt(P.g,1439,2587,"Contribution (%)","y-axis-title",{size:55,rotate:-90,anchor:"middle",fit:425});
  txt(P.g,2061,3129,"Scan rate (mV/s)","x-axis-title",{size:55,anchor:"middle"});
  tag(P.g,1317,2220,"(h)");
})();

/* ---------- panel i ---------- */
(function(){
  const P=panel({name:"panel-i-cycling",box:[2837,2166,3867,3014],xd:[0,10000],yd:[0,120],xticks:[0,2000,4000,6000,8000,10000],yticks:[0,20,40,60,80,100,120],xminor:1000,yminor:10});
  [[iComposite,BLUE,"series-composite"],[iNi3S2,PURPLE,"series-ni3s2"],[iNiMo,ORANGE,"series-nimo-ldh"]].forEach(function(s){
    straight(P,s[0],s[1],s[2]+"-line",6);
    dots(P,s[0],s[1],s[2]+"-point",9.5);
  });
  frame(P);
  legendItem(P.g,2896,2994,2763,3005,"Ni_3S_2@NiMo-LDH",BLUE,{size:40,marker:true,r:10});
  legendItem(P.g,2896,2994,2829,3005,"Ni_3S_2",PURPLE,{size:40,marker:true,r:10});
  legendItem(P.g,2896,2994,2894,3005,"NiMo-LDH",ORANGE,{size:40,marker:true,r:10});
  txt(P.g,3817,2434,"77%","retention-composite",{size:42,anchor:"middle",fill:BLUE});
  txt(P.g,3798,2585,"69.8%","retention-ni3s2",{size:42,anchor:"middle",fill:PURPLE});
  txt(P.g,3797,2791,"40.5%","retention-nimo-ldh",{size:42,anchor:"middle",fill:ORANGE});
  txt(P.g,2720,2546,"Capacitance rentation","y-axis-title",{size:55,rotate:-90,anchor:"middle",fit:530});
  txt(P.g,3351,3166,"Cycle numbers","x-axis-title",{size:55,anchor:"middle"});
  tag(P.g,2616,2218,"(i)");
})();
</script>
</body>
</html>
